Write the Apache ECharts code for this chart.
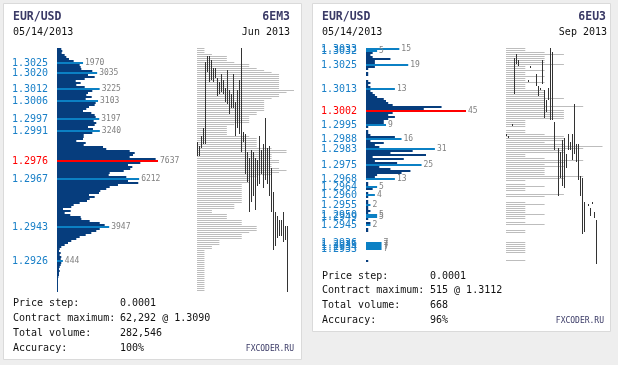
<!DOCTYPE html>
<html><head><meta charset="utf-8">
<script src="https://cdn.jsdelivr.net/npm/echarts@6/dist/echarts.min.js"></script>
<style>html,body{margin:0;padding:0;background:#eeeeee}#c{width:618px;height:365px}</style>
</head><body><div id="c"></div>
<script>
// ---------- data ----------
const priceStep = 0.0001;

// Left panel (6EM3, Jun 2013)
const leftTopPrice = 1.3032;
const leftVolumes = [325,400,355,580,705,905,1260,1970,1715,1790,1840,2670,3035,2345,2850,2095,1415,1790,1460,2095,3225,2670,2345,2215,2625,2170,3103,2925,2850,2420,2215,1965,2595,2850,2925,3197,2775,2970,2850,2345,2720,3240,2670,2020,2020,1965,1460,2170,2020,3480,3725,5495,5875,5745,5495,7460,7637,6300,5370,5695,5540,5045,3985,3910,5240,6212,5370,6145,4610,3985,3725,3275,3175,2420,2850,2470,2270,1715,1260,1080,455,1035,580,1005,1790,1840,2470,3230,3605,3947,3230,2970,2595,2170,1715,1460,1080,830,580,325,205,150,280,205,325,280,444,325,280,205,150,205,150,150,100,75,75,75,75,75,75,75];
const leftMarked = ['1.3025','1.3020','1.3012','1.3006','1.2997','1.2991','1.2976','1.2967','1.2943','1.2926'];
const leftMaxPrice = '1.2976';
const leftTpo = [1,1,1,2,4,4,4,5,7,7,8,9,10,11,11,11,11,11,11,11,11,13,12,11,11,10,9,9,9,9,9,9,8,8,7,7,7,7,5,4,4,4,4,4,7,8,8,8,8,8,10,12,12,10,10,10,11,11,10,10,11,12,11,10,8,7,7,7,6,6,6,6,6,6,6,6,6,6,5,5,5,2,2,4,4,4,6,6,6,8,8,8,7,6,6,6,3,3,3,2,2,1,1,1,1,1,1,1,1,1,1,1,1,1,1,1,1,1,1,1,1,1];
const leftBarHigh = [1.2985,1.2983,1.2988,1.2992,1.3025,1.3028,1.3028,1.3026,1.3022,1.3022,1.3017,1.3015,1.3019,1.3016,1.3012,1.3021,1.3011,1.3009,1.3019,1.3005,1.3011,1.3016,1.3032,1.2990,1.2989,1.2980,1.2977,1.2981,1.2980,1.2977,1.2976,1.2988,1.2981,1.2984,1.2997,1.2982,1.2983,1.2972,1.2960,1.2950,1.2948,1.2946,1.2946,1.2950,1.2943,1.2943];
const leftBarLow  = [1.2979,1.2979,1.2983,1.2985,1.2985,1.3021,1.3016,1.3017,1.3016,1.3018,1.3009,1.3010,1.3011,1.3010,1.3006,1.3005,1.3000,1.3003,1.3003,1.2989,1.2993,1.2990,1.2981,1.2986,1.2970,1.2966,1.2951,1.2956,1.2959,1.2952,1.2964,1.2965,1.2970,1.2963,1.2967,1.2965,1.2959,1.2951,1.2932,1.2934,1.2938,1.2939,1.2939,1.2936,1.2937,1.2911];
const leftStats = ['0.0001','62,292 @ 1.3090','282,546','100%'];

// Right panel (6EU3, Sep 2013)
const rightTopPrice = 1.3033;
const rightVolumes = [15,5,3,2,3,11,4,4,19,4,1,0,1,1,0,0,1,2,1,2,13,2,3,4,5,8,9,10,12,34,26,45,12,10,13,10,8,8,9,1,0,1,1,2,13,16,2,8,4,6,31,21,11,27,3,17,4,14,25,6,11,20,16,5,4,13,0,1,1,5,3,0,1,4,1,0,1,1,2,1,1,2,1,5,5,1,0,2,2,0,1,1,0,0,0,0,0,7,7,7,7,0,0,0,0,0,1];
const rightMarked = ['1.3033','1.3032','1.3025','1.3013','1.3002','1.2995','1.2988','1.2983','1.2975','1.2968','1.2964','1.2960','1.2955','1.2950','1.2949','1.2945','1.2936','1.2935','1.2934','1.2933'];
const rightMaxPrice = '1.3002';
const rightTpo = [1,1,2,3,2,2,2,2,3,1,1,2,1,1,2,1,1,2,1,1,1,2,2,2,2,3,2,2,2,4,2,3,3,3,3,3,1,1,1,1,0,1,1,2,3,3,3,2,3,5,4,3,3,1,1,2,4,3,2,3,2,2,2,2,4,3,1,0,1,2,1,1,0,3,2,0,0,1,2,1,1,1,1,2,1,1,0,1,2,0,0,1,1,0,0,0,0,1,1,1,1,1,1,0,0,0,1];
const rightBarHigh = [1.2990,1.2989,null,1.2995,1.3028,1.3030,1.3027,null,null,null,null,1.3017,1.3024,null,null,1.3020,1.3014,1.3013,1.3027,1.3012,1.3007,1.3013,1.3033,1.3031,1.2996,null,1.2983,1.2981,1.2987,1.2988,1.2980,1.2990,1.2986,1.2990,1.3005,1.2985,1.2985,1.2969,1.2968,1.2956,null,1.2955,1.2953,1.2956,1.2951,1.2947];
const rightBarLow  = [1.2990,1.2989,null,1.2995,1.3011,1.3026,1.3025,null,null,null,null,1.3017,1.3024,null,null,1.3015,1.3010,1.3013,1.3016,1.2999,1.3002,1.3008,1.2998,1.2998,1.2983,null,1.2960,1.2969,1.2965,1.2964,1.2974,1.2983,1.2983,1.2978,1.2981,1.2977,1.2968,1.2960,1.2941,1.2942,null,1.2955,1.2950,1.2956,1.2949,1.2926];
const rightStats = ['0.0001','515 @ 1.3112','668','96%'];

const statNames = ['Price step:','Contract maximum:','Total volume:','Accuracy:'];

// ---------- styles ----------
const MONO = '"DejaVu Sans Mono", "Liberation Mono", monospace';
const C_DARK = '#063d7d', C_LIGHT = '#0b80c4', C_RED = '#ff0000';
const C_LABEL = '#1a80c8', C_NAVY = '#3a3a66', C_GRAY = '#bdbdbd', C_VAL = '#808080';

function levels(top, n) {
  const out = [];
  const t = Math.round(top / priceStep);
  for (let i = 0; i < n; i++) out.push(((t - i) * priceStep).toFixed(4));
  return out;
}
const leftLevels = levels(leftTopPrice, leftVolumes.length);
const rightLevels = levels(rightTopPrice, rightVolumes.length);

function profileData(lv, vols, marked, maxP) {
  return vols.map((v, i) => {
    const p = lv[i];
    const isM = marked.indexOf(p) >= 0;
    return {
      value: v,
      itemStyle: { color: p === maxP ? C_RED : (isM ? C_LIGHT : C_DARK) },
      label: { show: isM }
    };
  });
}
function barData(hi, lo) {
  const out = [];
  hi.forEach((h, i) => { if (h != null) out.push([i, h, lo[i]]); });
  return out;
}
function labelAxis(grid, lv, marked, maxP) {
  return {
    gridIndex: grid, type: 'category', data: lv, inverse: true,
    axisLine: { show: false }, axisTick: { show: false }, splitLine: { show: false },
    axisLabel: {
      interval: 0, margin: 9, fontFamily: MONO, fontSize: 10, color: C_LABEL,
      formatter: v => marked.indexOf(v) < 0 ? '' : (v === maxP ? '{r|' + v + '}' : '{b|' + v + '}'),
      rich: {
        b: { fontFamily: MONO, fontSize: 10, color: C_LABEL },
        r: { fontFamily: MONO, fontSize: 10, color: C_RED }
      }
    }
  };
}
function renderBar(params, api) {
  const x = api.value(0), hi = api.value(1), lo = api.value(2);
  const p1 = api.coord([x, hi]), p2 = api.coord([x, lo]);
  const px = Math.round(p1[0]) + 0.5;
  return { type: 'line', shape: { x1: px, y1: Math.round(p1[1]) - 1, x2: px, y2: Math.round(p2[1]) + 1 },
           style: { stroke: '#333333', lineWidth: 1 } };
}
function txt(x, y, s, o) {
  o = o || {};
  return { type: 'text', x: x, y: y, z: 10, silent: true,
    style: { text: s, fill: o.fill || '#111', align: o.align || 'left', verticalAlign: 'middle',
             font: (o.bold ? 'bold ' : '') + (o.size || 10) + 'px ' + MONO } };
}

const L = { top: 48, rowH: 2 };
const leftH = leftVolumes.length * L.rowH;
const rightH = rightVolumes.length * L.rowH;

const graphics = [
  { type: 'rect', z: 0, shape: { x: 3.5, y: 3.5, width: 298, height: 356 }, style: { fill: '#fff', stroke: '#dadada', lineWidth: 1 } },
  { type: 'rect', z: 0, shape: { x: 312.5, y: 3.5, width: 298, height: 328 }, style: { fill: '#fff', stroke: '#dadada', lineWidth: 1 } },
  txt(13, 17, 'EUR/USD', { bold: true, size: 11.5, fill: C_NAVY }),
  txt(13, 32, '05/14/2013'),
  txt(290, 17, '6EM3', { bold: true, size: 11.5, fill: C_NAVY, align: 'right' }),
  txt(290, 32, 'Jun 2013', { align: 'right' }),
  txt(322, 17, 'EUR/USD', { bold: true, size: 11.5, fill: C_NAVY }),
  txt(322, 32, '05/14/2013'),
  txt(606, 17, '6EU3', { bold: true, size: 11.5, fill: C_NAVY, align: 'right' }),
  txt(607, 32, 'Sep 2013', { align: 'right' }),
  txt(294, 349, 'FXCODER.RU', { size: 8, fill: C_NAVY, align: 'right' }),
  txt(604, 321, 'FXCODER.RU', { size: 8, fill: C_NAVY, align: 'right' })
];
const leftStatY = [303, 318, 333, 348], rightStatY = [276, 290.5, 305.5, 320];
statNames.forEach((n, i) => {
  graphics.push(txt(13, leftStatY[i], n), txt(120, leftStatY[i], leftStats[i]));
  graphics.push(txt(322, rightStatY[i], n), txt(430, rightStatY[i], rightStats[i]));
});

const valLabel = { position: 'right', distance: 2, fontFamily: MONO, fontSize: 8, color: C_VAL };

const option = {
  backgroundColor: '#eeeeee',
  animation: false,
  graphic: { elements: graphics },
  grid: [
    { left: 57, top: L.top, width: 101, height: leftH },
    { left: 197, top: L.top - 0.5, width: 100, height: leftH },
    { left: 197, top: L.top, width: 100, height: leftH },
    { left: 366, top: L.top, width: 100, height: rightH },
    { left: 506, top: L.top - 0.5, width: 100, height: rightH },
    { left: 506, top: L.top, width: 100, height: rightH }
  ],
  xAxis: [
    { gridIndex: 0, type: 'value', min: 0, max: 7637, show: false },
    { gridIndex: 1, type: 'value', min: 0, max: 100 / 7.46, show: false },
    { gridIndex: 2, type: 'value', min: 0, max: 50, show: false },
    { gridIndex: 3, type: 'value', min: 0, max: 45, show: false },
    { gridIndex: 4, type: 'value', min: 0, max: 100 / 19.3, show: false },
    { gridIndex: 5, type: 'value', min: 0, max: 50, show: false }
  ],
  yAxis: [
    labelAxis(0, leftLevels, leftMarked, leftMaxPrice),
    { gridIndex: 1, type: 'category', data: leftLevels, inverse: true, show: false },
    { gridIndex: 2, type: 'value', show: false,
      min: +leftLevels[leftLevels.length - 1] - priceStep / 2, max: +leftLevels[0] + priceStep / 2 },
    labelAxis(3, rightLevels, rightMarked, rightMaxPrice),
    { gridIndex: 4, type: 'category', data: rightLevels, inverse: true, show: false },
    { gridIndex: 5, type: 'value', show: false,
      min: +rightLevels[rightLevels.length - 1] - priceStep / 2, max: +rightLevels[0] + priceStep / 2 }
  ],
  series: [
    { type: 'bar', xAxisIndex: 0, yAxisIndex: 0, barWidth: 2, barCategoryGap: 0, silent: true,
      data: profileData(leftLevels, leftVolumes, leftMarked, leftMaxPrice), label: valLabel },
    { type: 'bar', xAxisIndex: 1, yAxisIndex: 1, barWidth: 1, silent: true,
      itemStyle: { color: C_GRAY }, data: leftTpo },
    { type: 'custom', xAxisIndex: 2, yAxisIndex: 2, silent: true, clip: false,
      renderItem: renderBar, data: barData(leftBarHigh, leftBarLow), z: 5 },
    { type: 'bar', xAxisIndex: 3, yAxisIndex: 3, barWidth: 2, barCategoryGap: 0, silent: true,
      data: profileData(rightLevels, rightVolumes, rightMarked, rightMaxPrice), label: valLabel },
    { type: 'bar', xAxisIndex: 4, yAxisIndex: 4, barWidth: 1, silent: true,
      itemStyle: { color: C_GRAY }, data: rightTpo },
    { type: 'custom', xAxisIndex: 5, yAxisIndex: 5, silent: true, clip: false,
      renderItem: renderBar, data: barData(rightBarHigh, rightBarLow), z: 5 }
  ]
};
echarts.init(document.getElementById('c'), null, { renderer: 'canvas' }).setOption(option);
</script></body></html>
